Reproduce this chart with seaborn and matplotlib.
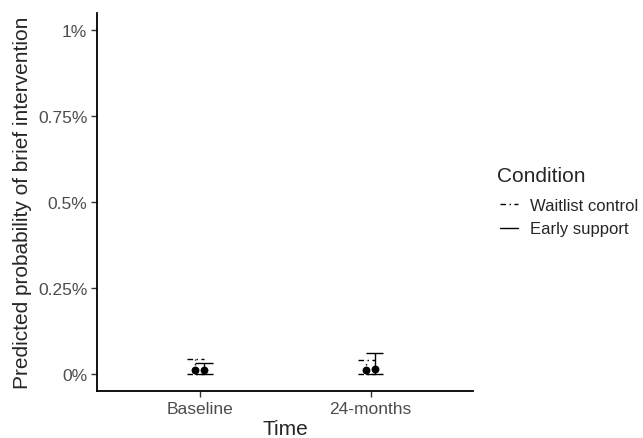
import numpy as np
import pandas as pd
import matplotlib
matplotlib.use("Agg")
import matplotlib.pyplot as plt
from matplotlib.lines import Line2D
from matplotlib.ticker import FuncFormatter
import seaborn as sns

# predicted probabilities (%) with confidence limits
times = ["Baseline", "24-months"]
conditions = ["Waitlist control", "Early support"]
waitlist_est = [0.012, 0.012]
waitlist_lo = [0.0, 0.0]
waitlist_hi = [0.044, 0.041]
early_est = [0.010, 0.015]
early_lo = [0.0, 0.0]
early_hi = [0.033, 0.061]
y_ticks = [0, 0.25, 0.5, 0.75, 1.0]

rows = []
for i, t in enumerate(times):
    rows.append(dict(Time=t, Condition=conditions[0], est=waitlist_est[i],
                     lo=waitlist_lo[i], hi=waitlist_hi[i]))
    rows.append(dict(Time=t, Condition=conditions[1], est=early_est[i],
                     lo=early_lo[i], hi=early_hi[i]))
df = pd.DataFrame(rows)

offsets = {conditions[0]: -0.025, conditions[1]: 0.025}
styles = {conditions[0]: (0, (4, 2.5, 1, 2.5)), conditions[1]: "-"}
df["xpos"] = df["Time"].map({t: i for i, t in enumerate(times)}) + df["Condition"].map(offsets)

sns.set_style("ticks")
plt.rcParams["font.family"] = ["Liberation Sans", "DejaVu Sans"]

fig = plt.figure(figsize=(6.43, 4.39), dpi=100)
ax = fig.add_axes([0.151, 0.107, 0.585, 0.861])

cap = 0.05
for _, r in df.iterrows():
    ls = styles[r["Condition"]]
    ax.vlines(r["xpos"], r["lo"], r["hi"], color="black", lw=1.0, linestyles=[ls])
    ax.hlines([r["lo"], r["hi"]], r["xpos"] - cap, r["xpos"] + cap,
              color="black", lw=1.0, linestyles=[ls])

sns.scatterplot(data=df, x="xpos", y="est", color="black", s=32, edgecolor="black",
                linewidth=0, legend=False, ax=ax, zorder=3)

ax.set_xlim(-0.6, 1.6)
ax.set_ylim(-0.05, 1.05)
ax.set_xticks(range(len(times)))
ax.set_xticklabels(times)
ax.set_yticks(y_ticks)
ax.yaxis.set_major_formatter(FuncFormatter(lambda v, p: f"{v:g}%"))
ax.set_xlabel("Time", fontsize=15, labelpad=2)
ax.set_ylabel("Predicted probability of brief intervention", fontsize=15, labelpad=4)
ax.tick_params(axis="both", labelsize=12.5, labelcolor="#4D4D4D", length=4,
               width=1.0, color="#333333", pad=3)
for s in ["left", "bottom"]:
    ax.spines[s].set_linewidth(1.3)
    ax.spines[s].set_color("black")
sns.despine(ax=ax)

# legend outside on the right
fig.text(497 / 643, 1 - 176 / 439, "Condition", fontsize=15, ha="left", va="center")
handles = [Line2D([0], [0], color="black", lw=1.0, linestyle=styles[c]) for c in conditions]
fig.legend(handles, conditions, loc="upper left", bbox_to_anchor=(0.777, 1 - 199 / 439),
           frameon=False, fontsize=12, handlelength=1.1, handletextpad=0.7,
           labelspacing=0.5, borderpad=0, borderaxespad=0)

fig.savefig("out.png", dpi=100)
